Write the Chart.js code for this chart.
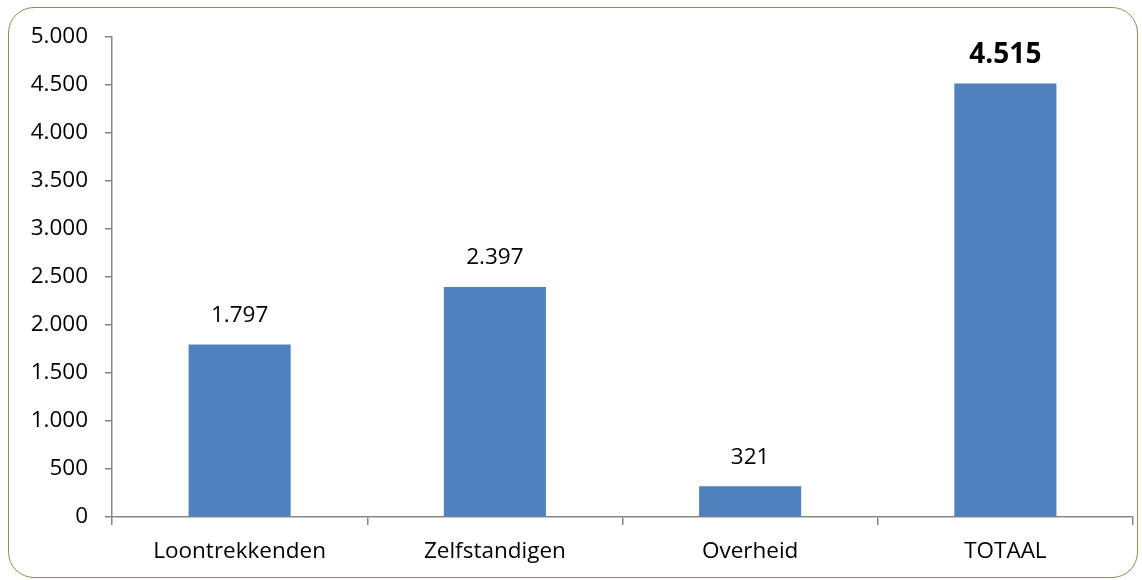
<!DOCTYPE html>
<html>
<head>
<meta charset="utf-8">
<script src="https://cdn.jsdelivr.net/npm/chart.js@4.4.0/dist/chart.umd.min.js"></script>
<style>
body{margin:0;background:#fff;}
#wrap{position:relative;width:1142px;height:580px;}
#frame{position:absolute;left:8px;top:7px;width:1128px;height:569px;border:1.5px solid #938953;border-radius:26px;}
canvas{position:absolute;left:0;top:0;}
</style>
</head>
<body>
<div id="wrap">
<div id="frame"></div>
<canvas id="canvas" width="1142" height="580"></canvas>
</div>
<script>
var categories=['Loontrekkenden','Zelfstandigen','Overheid','TOTAAL'];
var values=[1797,2397,321,4515];
var yTicks=[0,500,1000,1500,2000,2500,3000,3500,4000,4500,5000];

function dotFormat(v){
	return String(v).replace(/\B(?=(\d{3})+(?!\d))/g,'.');
}

//draws the value above each bar, last one bold
var valueLabels={
	id:'valueLabels',
	afterDatasetsDraw:function(chart){
		var ctx=chart.ctx;
		var meta=chart.getDatasetMeta(0);
		ctx.save();
		ctx.textAlign='center';
		ctx.textBaseline='middle';
		ctx.fillStyle='#000';
		for(var i=0;i<meta.data.length;i++){
			var bar=meta.data[i];
			if(i==meta.data.length-1){
				ctx.font='bold 28px "Open Sans"';
			}
			else{
				ctx.font='22.5px "Open Sans"';
			}
			ctx.fillText(dotFormat(values[i]),bar.x,bar.y-29);
		}
		ctx.restore();
	}
};

var config={};
config['type']='bar';
config['data']={
	labels:categories,
	datasets:[{
		data:values,
		backgroundColor:'#4F81BD',
		barPercentage:0.4,
		categoryPercentage:1
	}]
};
config['options']={
	responsive:false,
	animation:false,
	layout:{padding:{top:37,right:9,left:0,bottom:0}},
	plugins:{legend:{display:false},tooltip:{enabled:false}},
	scales:{
		x:{
			grid:{display:true,drawOnChartArea:false,offset:true,tickLength:8,color:'#868686',lineWidth:1.5},
			border:{color:'#868686',width:1.5},
			ticks:{color:'#000',font:{family:'Open Sans',size:22.5},padding:13},
			afterFit:function(s){s.height=63;}
		},
		y:{
			min:0,max:5000,
			afterBuildTicks:function(s){s.ticks=yTicks.map(function(v){return {value:v};});},
			grid:{display:true,drawOnChartArea:false,tickLength:7,color:'#868686',lineWidth:1.5},
			border:{color:'#868686',width:1.5},
			ticks:{color:'#000',font:{family:'Open Sans',size:22.5},padding:17,callback:function(v){return dotFormat(v);}},
			afterFit:function(s){s.width=112;}
		}
	}
};
config['plugins']=[valueLabels];

var ctx=document.getElementById('canvas').getContext('2d');
window.myBar=new Chart(ctx,config);
</script>
</body>
</html>
